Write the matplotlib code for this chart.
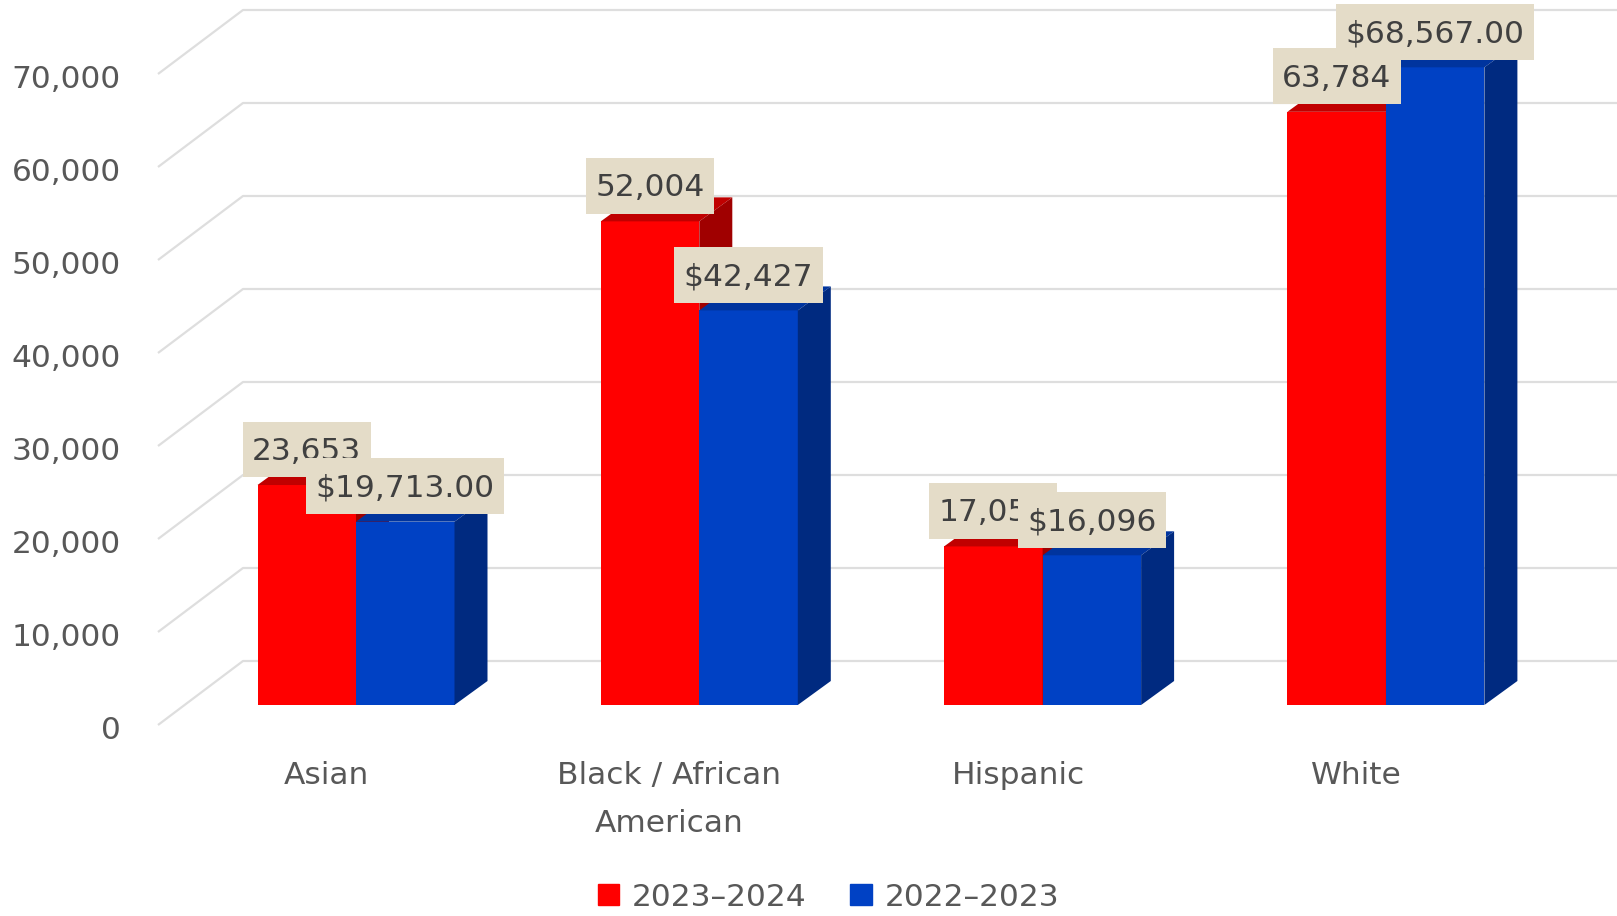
import numpy as np
import matplotlib.pyplot as plt
from matplotlib.patches import Polygon, Patch
from matplotlib.path import Path

# data
categories = ['Asian', 'Black / African\nAmerican', 'Hispanic', 'White']
values_2324 = [23653, 52004, 17052, 63784]
values_2223 = [19713, 42427, 16096, 68567]
labels_2324 = ['23,653', '52,004', '17,052', '63,784']
labels_2223 = ['$19,713.00', '$42,427', '$16,096', '$68,567.00']
y_ticks = [0, 10000, 20000, 30000, 40000, 50000, 60000, 70000]
series_names = ['2023\u20132024', '2022\u20132023']

# colours: front, top, side
red = ('#FF0000', '#C00000', '#A00000')
blue = ('#0041C4', '#00349E', '#002A80')
grid_color = '#DEDEDE'
text_color = '#585858'
label_color = '#404040'
box_color = '#E4DCC8'
FS = 22.5

# layout in pixels
W, H = 1617, 916
BASE = 705            # pixel row of value 0 on the bar fronts
U = 10000 / 93.0      # value units per pixel
X0, STEP = 356, 343.3 # pixel x of first category, pixels per category
cat_shift = [-30, -30, -24, -30]

fig = plt.figure(figsize=(W / 100, H / 100), dpi=100)
ax = fig.add_axes([0, 0, 1, 1])
ax.set_xlim(-X0 / STEP, (W - X0) / STEP)
ax.set_ylim(-(H - BASE) * U, BASE * U)
ax.axis('off')


def px(n):
    return n / STEP


# grid on the back wall plus the receding floor lines
wall_left = px(243 - X0)
front_left = px(158 - X0)
for v in y_ticks:
    yb = v + 44 * U
    ax.plot([front_left, wall_left, px(W - X0) + 1], [yb - 64 * U, yb, yb],
            color=grid_color, lw=1.6, zorder=1, solid_capstyle='butt')
    ax.text(px(121 - X0), v - 34 * U, f'{v:,}', ha='right', va='baseline',
            fontsize=FS, color=text_color)

# bars drawn as front, top and side faces
x = np.arange(len(categories))
w = px(98.5)
DX, DY = px(33), 24 * U


def bar3d(left, v, cols, z):
    ax.bar(left + w / 2, v, w, color=cols[0], zorder=z, linewidth=0)
    top = [(left, v), (left + w, v), (left + w + DX, v + DY), (left + DX, v + DY)]
    side = [(left + w, 0), (left + w, v), (left + w + DX, v + DY), (left + w + DX, DY)]
    ax.add_patch(Polygon(top, closed=True, fc=cols[1], ec='none', zorder=z))
    ax.add_patch(Polygon(side, closed=True, fc=cols[2], ec='none', zorder=z))


for i in x:
    bar3d(i - w, values_2324[i], red, 2)
    bar3d(i, values_2223[i], blue, 3)


def label_box(x0, y0, width, height, mutation_size):
    # wider padding above and below than at the sides
    px_, pt, pb = 0.3 * mutation_size, 0.49 * mutation_size, 0.365 * mutation_size
    x1, y1 = x0 - px_, y0 - pb
    x2, y2 = x0 + width + px_, y0 + height + pt
    return Path([(x1, y1), (x2, y1), (x2, y2), (x1, y2), (x1, y1)], closed=True)


box = dict(boxstyle=label_box, fc=box_color, ec='none')
for i in x:
    ax.annotate(labels_2324[i], xy=(i - w / 2, values_2324[i]), xytext=(0, 19),
                textcoords='offset pixels', ha='center', va='bottom',
                fontsize=FS, color=label_color, bbox=box, zorder=5)
for i in x:
    ax.annotate(labels_2223[i], xy=(i + w / 2, values_2223[i]), xytext=(0, 19),
                textcoords='offset pixels', ha='center', va='bottom',
                fontsize=FS, color=label_color, bbox=box, zorder=6)

# category labels
for i, c in enumerate(categories):
    ax.text(i + px(cat_shift[i]), (BASE - 761) * U, c, ha='center', va='top',
            fontsize=FS, color=text_color, linespacing=1.83)

handles = [Patch(color=red[0], label=series_names[0]),
           Patch(color=blue[0], label=series_names[1])]
fig.legend(handles=handles, loc='center', bbox_to_anchor=(828.5 / W, 19 / H),
           ncol=2, frameon=False, fontsize=FS, handlelength=0.68,
           handleheight=0.68, handletextpad=0.42, columnspacing=1.4,
           labelcolor=text_color, borderpad=0, borderaxespad=0)

fig.savefig('out.png', dpi=100)
